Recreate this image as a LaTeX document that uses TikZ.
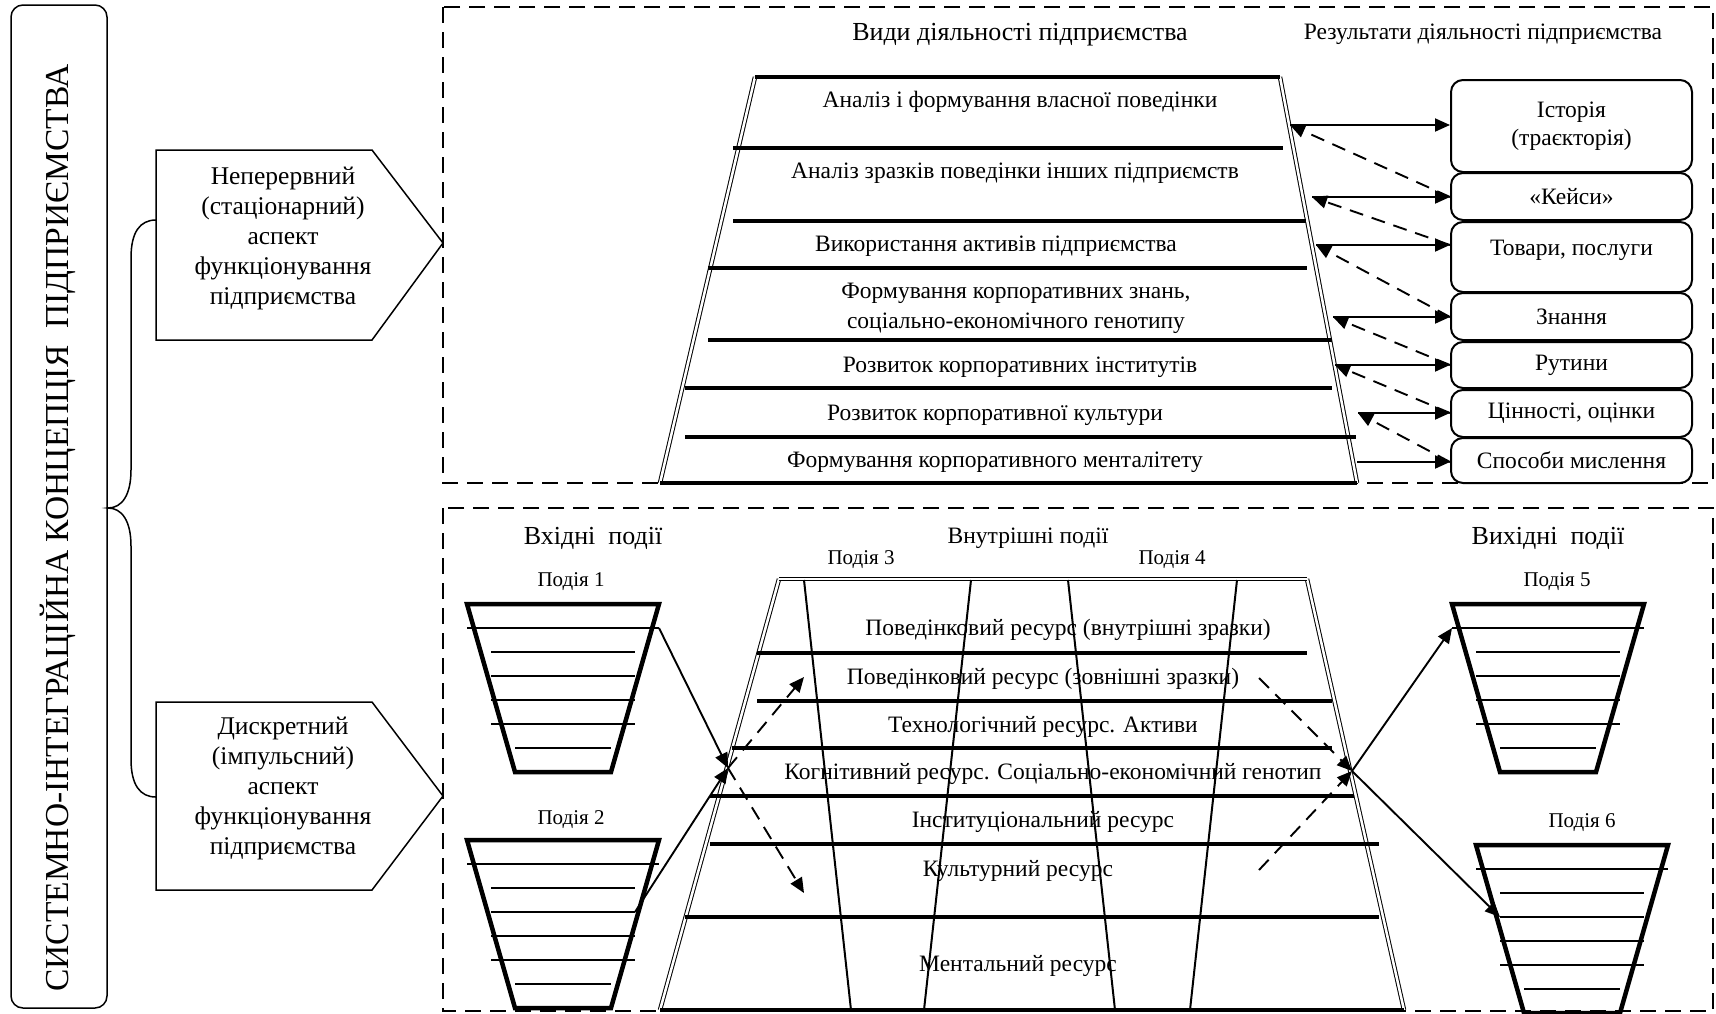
\documentclass[tikz,border=0pt]{standalone}
\usepackage{fontspec}
\setmainfont{Liberation Serif}
\usetikzlibrary{arrows.meta}
\tikzset{
  zone/.style={line width=2pt, dash pattern=on 16pt off 9pt},
  layer/.style={line width=3.2pt},
  wall/.style={double, line width=1pt, double distance=2.5pt},
  slant/.style={line width=2pt},
  cupline/.style={line width=4.5pt, line join=miter},
  cupinner/.style={line width=1.6pt},
  edge/.style={line width=1.5pt},
  resbox/.style={draw, line width=2pt, rounded corners=12pt, minimum width=241pt, inner sep=0pt, font=\fontsize{23.5}{28}\selectfont, align=center},
  txt/.style={inner sep=0pt, font=\fontsize{23.5}{30}\selectfont, align=center},
  title/.style={inner sep=0pt, font=\fontsize{26}{30}\selectfont},
  evlbl/.style={inner sep=0pt, font=\fontsize{21}{24}\selectfont},
  aspect/.style={inner sep=0pt, font=\fontsize{25.5}{30}\selectfont, align=center},
  link/.style={line width=1.9pt, -{Triangle[length=15pt,width=13pt]}},
  dlink/.style={link, dash pattern=on 14pt off 9pt},
}
% event cup: top centre (x,y), name
\def\eventcup(#1,#2)#3{%
  \begin{scope}[shift={(#1,#2)}]
    \draw[cupline] (-96,0) -- (96,0) -- (48,168) -- (-48,168) -- cycle;
    \draw[cupinner] (-96,24) coordinate (#3w24) -- (96,24) coordinate (#3e24);
    \foreach \yy in {48,72,96,120}
      \draw[cupinner] (-72,\yy) coordinate (#3w\yy) -- (72,\yy) coordinate (#3e\yy);
    \draw[cupinner] (-48,144) -- (48,144);
  \end{scope}}

\begin{document}
\begin{tikzpicture}[x=1pt,y=-1pt]
  \useasboundingbox (0,0) rectangle (1716,1013);

  % concept and aspects
  \draw[edge, rounded corners=12pt] (11,5) rectangle (107,1008);
  \node[rotate=90, inner sep=0pt, font=\fontsize{33.5}{36}\selectfont] (concept) at (58,528)
    {СИСТЕМНО-ІНТЕГРАЦІЙНА КОНЦЕПЦІЯ\ \ ПІДПРИЄМСТВА};

  \draw[edge] (156,150) -- (372,150) -- (443,243) -- (372,340) -- (156,340) -- cycle;
  \node[aspect] (cont) at (283,238) {Неперервний\\(стаціонарний)\\аспект\\функціонування\\підприємства};
  \draw[edge] (156,702) -- (372,702) -- (443,796) -- (372,890) -- (156,890) -- cycle;
  \node[aspect] (disc) at (283,788) {Дискретний\\(імпульсний)\\аспект\\функціонування\\підприємства};

  \coordinate (bracetop) at (156,220);
  \coordinate (bracetip) at (108,508);
  \coordinate (bracebot) at (156,797);
  \draw[edge] (bracetop) .. controls (140,220) and (131,232) .. (131,258) -- (131,470)
    .. controls (131,495) and (122,508) .. (bracetip)
    .. controls (122,508) and (131,521) .. (131,546) -- (131,759)
    .. controls (131,785) and (140,797) .. (bracebot);

  % top panel: activities and results
  \draw[zone] (443,7) rectangle (1713,483);
  \node[title] (kinds) at (1020,35) {Види діяльності підприємства};
  \node[txt] (results) at (1483,34) {Результати діяльності підприємства};

  \draw[wall] (755,77) -- (660,483);
  \draw[wall] (1280,77) -- (1357,483);
  \draw[layer] (755,77) -- (1280,77);
  \foreach \yy/\xa/\xb in {148/733/1283, 221/733/1306, 268/708/1307, 340/708/1332,
                          388/685/1332, 437/685/1356, 483/660/1357}
    \draw[layer] (\xa,\yy) -- (\xb,\yy);

  \node[txt] (act1) at (1020,102) {Аналіз і формування власної поведінки};
  \node[txt] (act2) at (1015,173) {Аналіз зразків поведінки інших підприємств};
  \node[txt] (act3) at (996,246) {Використання активів підприємства};
  \node[txt] (act4) at (1016,308) {Формування корпоративних знань,\\соціально-економічного генотипу};
  \node[txt] (act5) at (1020,367) {Розвиток корпоративних інститутів};
  \node[txt] (act6) at (995,415) {Розвиток корпоративної культури};
  \node[txt] (act7) at (995,462) {Формування корпоративного менталітету};

  \node[resbox, minimum height=92pt] (hist) at (1571.5,126) {Історія\\(траєкторія)};
  \node[resbox, minimum height=47pt] (cases) at (1571.5,196.5) {«Кейси»};
  \node[resbox, minimum height=70pt, text height=16pt, text depth=19pt] (goods) at (1571.5,257) {Товари, послуги};
  \node[resbox, minimum height=47pt] (know) at (1571.5,316.5) {Знання};
  \node[resbox, minimum height=46pt] (rout) at (1571.5,365) {Рутини};
  \node[resbox, minimum height=47pt] (vals) at (1571.5,413.5) {Цінності, оцінки};
  \node[resbox, minimum height=45pt] (mind) at (1571.5,460.5) {Способи мислення};

  \coordinate (p1) at (1290,125);
  \coordinate (p2) at (1312,197);
  \coordinate (p3) at (1316,245);
  \coordinate (p4) at (1333,317);
  \coordinate (p5) at (1335,365);
  \coordinate (p6) at (1358,413);
  \coordinate (p7) at (1357,462);
  \draw[link] (p1) -- (p1 -| hist.west);
  \draw[link] (p2) -- (p2 -| cases.west);
  \draw[link] (p3) -- (p3 -| goods.west);
  \draw[link] (p4) -- (p4 -| know.west);
  \draw[link] (p5) -- (p5 -| rout.west);
  \draw[link] (p6) -- (p6 -| vals.west);
  \draw[link] (p7) -- (p7 -| mind.west);
  \draw[dlink] (p2 -| cases.west) -- (p1);
  \draw[dlink] (p3 -| goods.west) -- (p2);
  \draw[dlink] (p4 -| know.west) -- (p3);
  \draw[dlink] (p5 -| rout.west) -- (p4);
  \draw[dlink] (p6 -| vals.west) -- (p5);
  \draw[dlink] (p7 -| mind.west) -- (p6);

  % bottom panel: events and resources
  \draw[zone] (443,508) rectangle (1713,1011);
  \node[title] (inev) at (593,538) {Вхідні\ \ події};
  \node[txt] (midev) at (1028,538) {Внутрішні події};
  \node[title] (outev) at (1548,538) {Вихідні\ \ події};
  \node[evlbl] (ev1lbl) at (571,582) {Подія 1};
  \node[evlbl] (ev2lbl) at (571,820) {Подія 2};
  \node[evlbl] (ev3lbl) at (861,560) {Подія 3};
  \node[evlbl] (ev4lbl) at (1172,560) {Подія 4};
  \node[evlbl] (ev5lbl) at (1557,582) {Подія 5};
  \node[evlbl] (ev6lbl) at (1582,823) {Подія 6};

  \draw[wall] (779,579) -- (660,1010);
  \draw[wall] (1307,579) -- (1404,1010);
  \draw[wall] (779,579) -- (1307,579);
  \foreach \yy/\xa/\xb in {653/757/1307, 701/757/1332, 748/732/1332, 796/710/1354,
                          844/710/1379, 917/685/1379, 1010/660/1404}
    \draw[layer] (\xa,\yy) -- (\xb,\yy);
  \foreach \xa/\xb in {804/851, 971/924, 1068/1115, 1237/1190}
    \draw[slant] (\xa,580) -- (\xb,1010);

  \node[txt] (res1) at (1068,630) {Поведінковий ресурс (внутрішні зразки)};
  \node[txt] (res2) at (1043,679) {Поведінковий ресурс (зовнішні зразки)};
  \node[txt] (res3) at (1043,727) {Технологічний ресурс. Активи};
  \node[txt] (res4) at (1053,774) {Когнітивний ресурс. Соціально-економічний генотип};
  \node[txt] (res5) at (1043,822) {Інституціональний ресурс};
  \node[txt] (res6) at (1018,871) {Культурний ресурс};
  \node[txt] (res7) at (1018,966) {Ментальний ресурс};

  \eventcup(563,604){ev1}
  \eventcup(563,840){ev2}
  \eventcup(1548,604){ev5}
  \eventcup(1572,845){ev6}

  \coordinate (lmeet) at (728,768);
  \coordinate (rmeet) at (1352,771);
  \coordinate (lup) at (804,677);
  \coordinate (ldown) at (804,893);
  \coordinate (rup) at (1259,678);
  \coordinate (rdown) at (1259,870);
  \draw[link] (ev1e24) -- (lmeet);
  \draw[link] (ev2e72) -- (lmeet);
  \draw[dlink] (lmeet) -- (lup);
  \draw[dlink] (lmeet) -- (ldown);
  \draw[dlink] (rup) -- (rmeet);
  \draw[dlink] (rdown) -- (rmeet);
  \draw[link] (rmeet) -- (ev5w24);
  \draw[link] (rmeet) -- (ev6w72);
\end{tikzpicture}
\end{document}
